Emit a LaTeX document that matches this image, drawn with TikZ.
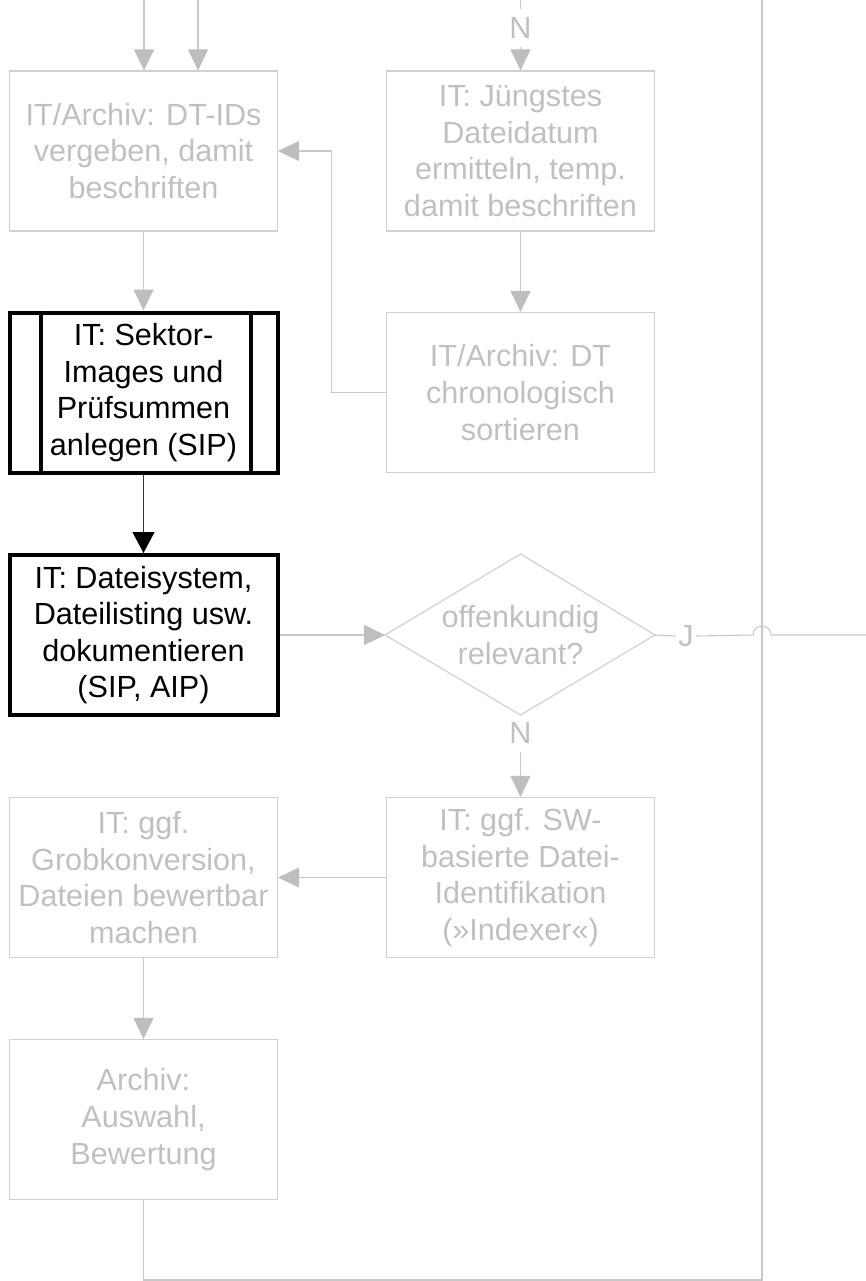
\documentclass[tikz,border=0pt]{standalone}
\usepackage{fontspec}
\setmainfont{Liberation Sans}
\usetikzlibrary{arrows.meta}
\definecolor{bordergray}{RGB}{208,208,208}
\definecolor{linegray}{RGB}{200,200,200}
\definecolor{textgray}{RGB}{192,192,192}
\definecolor{tipgray}{RGB}{190,190,190}
\begin{document}
\begin{tikzpicture}[x=0.5pt,y=-0.5pt,
  font=\fontsize{15.3}{18.3}\selectfont,
  graybox/.style={draw=bordergray, line width=0.6pt, text=textgray, minimum width=134pt, minimum height=80pt, align=center, inner sep=0pt},
  blackbox/.style={draw=black, line width=2pt, text=black, minimum width=134pt, minimum height=80pt, align=center, inner sep=0pt},
  glabel/.style={text=textgray, inner sep=0pt},
  gline/.style={draw=linegray, line width=0.55pt},
  garrow/.style={gline, -{Triangle[width=10pt,length=10.5pt,fill=tipgray,color=tipgray]}},
  barrow/.style={draw=black!80, line width=0.55pt, -{Triangle[width=11pt,length=10.5pt,fill=black,color=black]}}
]
\useasboundingbox (0,0) rectangle (866,1281);

% boxes
\node[graybox] (A) at (143.5,151) {IT/Archiv: DT-IDs\\vergeben, damit\\beschriften};
\node[graybox] (B) at (520.5,151) {IT: Jüngstes\\Dateidatum\\ermitteln, temp.\\damit beschriften};
\node[graybox] (C) at (520.5,392.5) {IT/Archiv: DT\\chronologisch\\sortieren};
\node[blackbox] (D) at (143.5,392.5) {IT: Sektor-\\Images und\\Prüfsummen\\anlegen (SIP)};
\draw[black, line width=2pt] ([xshift=16.5pt]D.north west) -- ([xshift=16.5pt]D.south west);
\draw[black, line width=2pt] ([xshift=-14.5pt]D.north east) -- ([xshift=-14.5pt]D.south east);
\node[blackbox] (E) at (143.5,635) {IT: Dateisystem,\\Dateilisting usw.\\dokumentieren\\(SIP, AIP)};
\node[graybox] (F) at (520.5,877.5) {IT: ggf. SW-\\basierte Datei-\\Identifikation\\(»Indexer«)};
\node[graybox] (G) at (143.5,877.5) {IT: ggf.\\Grobkonversion,\\Dateien bewertbar\\machen};
\node[graybox] (H) at (143.5,1119.5) {Archiv:\\Auswahl,\\Bewertung};

% decision
\coordinate (Qw) at (385,635);
\coordinate (Qn) at (520.5,554);
\coordinate (Qe) at (655,635);
\coordinate (Qs) at (520.5,715);
\draw[draw=bordergray, line width=0.6pt] (Qw) -- (Qn) -- (Qe) -- (Qs) -- cycle;
\node[glabel, align=center] (Qt) at (520.5,635) {offenkundig\\relevant?};

% labels
\node[glabel, inner sep=4pt] (N1) at (520.5,28) {N};
\node[glabel, inner sep=4pt] (N2) at (520.5,733) {N};
\node[glabel, inner sep=1pt] (J) at (686,636) {J};

% free ends
\coordinate (t1) at (144,0);
\coordinate (t2) at (198,0);
\coordinate (t3) at (520.5,0);
\coordinate (v0) at (762,0);
\coordinate (v1) at (762,1280);
\coordinate (hopL) at (753,635);
\coordinate (rend) at (866,635);

% connectors
\draw[garrow] (t1) -- (t1 |- A.north);
\draw[garrow] (t2) -- (t2 |- A.north);
\draw[gline] (t3) -- (N1.north);
\draw[garrow] (N1.south) -- (B.north);
\draw[garrow] (B.south) -- (C.north);
\draw[garrow] (C.west) -- ++(-54,0) |- (A.east);
\draw[garrow] (A.south) -- (D.north);
\draw[barrow] (D.south) -- (E.north);
\draw[garrow] (E.east) -- (Qw);
\draw[gline] (Qe) -- (J.west);
\draw[gline] (J.east) -- (hopL) arc (180:360:9) -- (rend);
\draw[garrow] (N2.south) -- (F.north);
\draw[garrow] (F.west) -- (G.east);
\draw[garrow] (G.south) -- (H.north);
\draw[gline] (H.south) |- (v1) -- (v0);
\end{tikzpicture}
\end{document}
